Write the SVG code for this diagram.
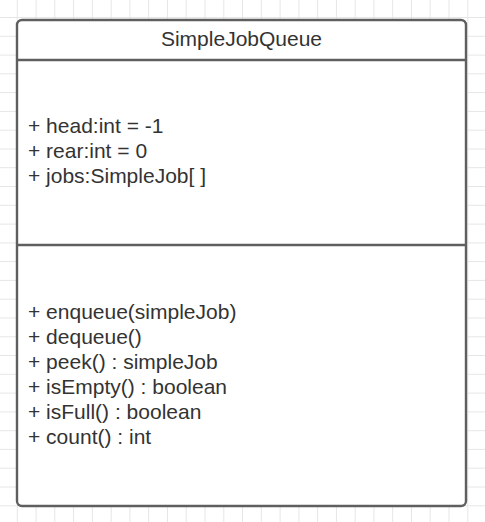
<svg xmlns="http://www.w3.org/2000/svg" width="485" height="522" viewBox="0 0 485 522">
  <style>
    .grid { fill: none; stroke: #e6e6e6; stroke-width: 1; }
    .frame { fill: #ffffff; stroke: #5f5f5f; stroke-width: 2.4; }
    .rule { stroke: #5f5f5f; stroke-width: 2.4; }
    .txt { font-family: "Liberation Sans", Arial, sans-serif; font-size: 21px; fill: #333333; }
    .title { text-anchor: middle; }
  </style>
  <rect width="485" height="522" fill="#ffffff"/>
  <!-- background grid -->
  <g id="grid" class="grid">
    <path d="M17.3 0V522M36.1 0V522M54.8 0V522M73.6 0V522M92.4 0V522M111.2 0V522M129.9 0V522M148.7 0V522M167.5 0V522M186.2 0V522M205 0V522M223.8 0V522M242.5 0V522M261.3 0V522M280.1 0V522M298.9 0V522M317.6 0V522M336.4 0V522M355.2 0V522M373.9 0V522M392.7 0V522M411.5 0V522M430.2 0V522M449 0V522M467.8 0V522"/>
    <path d="M0 17.5H485M0 36.3H485M0 55.1H485M0 73.8H485M0 92.6H485M0 111.4H485M0 130.2H485M0 149H485M0 167.7H485M0 186.5H485M0 205.3H485M0 224.1H485M0 242.9H485M0 261.6H485M0 280.4H485M0 299.2H485M0 318H485M0 336.8H485M0 355.5H485M0 374.3H485M0 393.1H485M0 411.9H485M0 430.7H485M0 449.4H485M0 468.2H485M0 487H485M0 505.8H485"/>
  </g>
  <!-- UML class box -->
  <g id="SimpleJobQueue">
    <rect class="frame" x="17" y="20" width="449" height="486" rx="5" ry="5"/>
    <line class="rule" x1="17" y1="60" x2="466" y2="60"/>
    <line class="rule" x1="17" y1="245" x2="466" y2="245"/>
    <text class="txt title" x="241.5" y="45.5">SimpleJobQueue</text>
    <g id="attributes" class="txt">
      <text x="28" y="132.5">+ head:int = -1</text>
      <text x="28" y="157.5">+ rear:int = 0</text>
      <text x="28" y="182.5">+ jobs:SimpleJob[ ]</text>
    </g>
    <g id="operations" class="txt">
      <text x="28" y="318.5">+ enqueue(simpleJob)</text>
      <text x="28" y="343.5">+ dequeue()</text>
      <text x="28" y="368.5">+ peek() : simpleJob</text>
      <text x="28" y="393.5">+ isEmpty() : boolean</text>
      <text x="28" y="418.5">+ isFull() : boolean</text>
      <text x="28" y="443.5">+ count() : int</text>
    </g>
  </g>
  <g id="connectors"/>
</svg>
